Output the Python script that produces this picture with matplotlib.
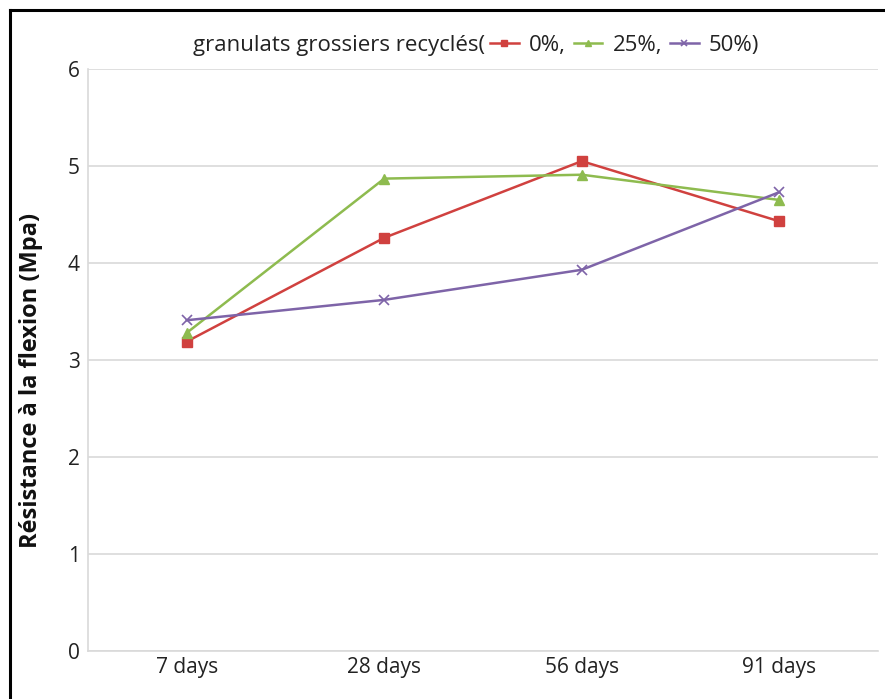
import matplotlib.pyplot as plt
from matplotlib.lines import Line2D

ages = ["7 days", "28 days", "56 days", "91 days"]
rca_0 = [3.19, 4.26, 5.05, 4.43]
rca_25 = [3.28, 4.87, 4.91, 4.65]
rca_50 = [3.41, 3.62, 3.93, 4.73]
series_labels = ["0%,", "25%,", "50%)"]
y_ticks = [0, 1, 2, 3, 4, 5, 6]

plt.rcParams['font.family'] = ['Open Sans', 'DejaVu Sans']

W, H = 885, 699
fig = plt.figure(figsize=(W / 100, H / 100), dpi=100)
ax = fig.add_axes([88 / W, 1 - 651 / H, (878 - 88) / W, (651 - 69) / H])

x = range(len(ages))
l0, = ax.plot(x, rca_0, color="#D0413F", lw=1.8, marker="s", ms=7)
l25, = ax.plot(x, rca_25, color="#8EBB4F", lw=1.8, marker="^", ms=7)
l50, = ax.plot(x, rca_50, color="#7E64A8", lw=1.8, marker="x", ms=7, mew=1.2)

ax.set_xlim(-0.5, len(ages) - 0.5)
ax.set_ylim(0, 6)
ax.set_yticks(y_ticks)
ax.set_xticks(list(x))
ax.set_xticklabels(ages)
ax.tick_params(axis="both", length=0, labelsize=15, colors="#222222")
ax.tick_params(axis="y", pad=6)
ax.tick_params(axis="x", pad=4)
ax.grid(axis="y", color="#D9D9D9", lw=1.2)
ax.set_axisbelow(True)
for side in ["top", "right"]:
    ax.spines[side].set_visible(False)
for side in ["left", "bottom"]:
    ax.spines[side].set_color("#D9D9D9")
    ax.spines[side].set_linewidth(1.2)

fig.text(31 / W, 1 - 380 / H, "Résistance à la flexion (Mpa)", rotation=90,
         ha="center", va="center", fontsize=17, fontweight="bold", color="#111111")

# legend line across the top
fig.text(193 / W, 1 - 45 / H, "granulats grossiers recyclés(", ha="left",
         va="center", fontsize=16, color="#222222")
fig.legend([l0, l25, l50], series_labels, loc="center left",
           bbox_to_anchor=(490 / W, 1 - 45 / H), ncol=3, frameon=False,
           fontsize=16, handlelength=1.3, handletextpad=0.45, columnspacing=0.35,
           borderpad=0, borderaxespad=0, markerscale=0.7, labelcolor="#222222")

# black frame around the chart
fig.add_artist(Line2D([10 / W, 10 / W], [0, 1 - 10 / H], color="black", lw=2.2))
fig.add_artist(Line2D([10 / W, 1], [1 - 10 / H, 1 - 10 / H], color="black", lw=2.2))

fig.savefig("out.png", dpi=100)
